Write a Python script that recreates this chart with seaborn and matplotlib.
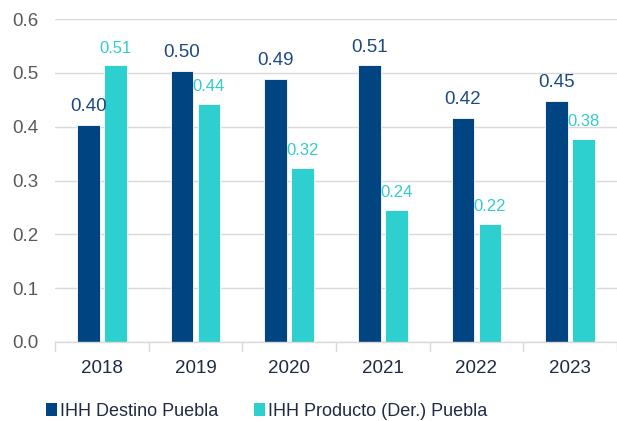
import matplotlib
matplotlib.use("Agg")
import matplotlib.pyplot as plt
import seaborn as sns
import pandas as pd
from matplotlib.patches import Patch

years = ["2018", "2019", "2020", "2021", "2022", "2023"]
destino = [0.403, 0.504, 0.489, 0.514, 0.416, 0.448]
producto = [0.514, 0.442, 0.324, 0.245, 0.219, 0.377]
series_names = ["IHH Destino Puebla", "IHH Producto (Der.) Puebla"]
yticks = [0.0, 0.1, 0.2, 0.3, 0.4, 0.5, 0.6]

c_dest = "#004581"
c_prod = "#2ECFCF"
c_dest_lbl = "#1B4A82"
c_prod_lbl = "#33CCCC"

sns.set_theme(style="white")
plt.rcParams["font.family"] = ["Liberation Sans", "DejaVu Sans"]

df = pd.DataFrame({
    "year": years * 2,
    "value": destino + producto,
    "serie": [series_names[0]] * len(years) + [series_names[1]] * len(years),
})

fig = plt.figure(figsize=(6.17, 4.21), dpi=100)
ax = fig.add_axes([55 / 617, 1 - 342 / 421, (617 - 55) / 617, (342 - 19) / 421])

sns.barplot(data=df, x="year", y="value", hue="serie", order=years,
            hue_order=series_names, palette=[c_dest, c_prod], saturation=1,
            width=0.576, gap=0.15, edgecolor="white", linewidth=0.6,
            legend=False, ax=ax)

ax.set_ylim(0, 0.6)
ax.set_xlim(-0.5, len(years) - 0.5)
ax.set_yticks(yticks)
ax.set_yticklabels([f"{v:.1f}" for v in yticks], color="#595959", fontsize=13.5)
ax.yaxis.grid(True, color="#D9D9D9", linewidth=1)
ax.set_axisbelow(True)
ax.tick_params(axis="y", length=0, pad=12)
ax.tick_params(axis="x", length=0, pad=13, labelsize=13.5, labelcolor="#1F2A44")
for s in ["top", "right", "left"]:
    ax.spines[s].set_visible(False)
ax.spines["bottom"].set_color("#D9D9D9")
ax.spines["bottom"].set_linewidth(1)
for b in range(len(years) + 1):
    ax.plot([b - 0.5, b - 0.5], [0, -0.016], color="#D9D9D9", lw=1,
            clip_on=False, transform=ax.transData)
ax.set_xlabel("")
ax.set_ylabel("")

ax.bar_label(ax.containers[0], labels=[f"{v:.2f}" for v in destino],
             padding=7, color=c_dest_lbl, fontsize=13.5)
ax.bar_label(ax.containers[1], labels=[f"{v:.2f}" for v in producto],
             padding=7, color=c_prod_lbl, fontsize=12)

handles = [Patch(facecolor=c_dest, edgecolor="none"),
           Patch(facecolor=c_prod, edgecolor="none")]
fig.legend(handles, series_names, loc="center left",
           bbox_to_anchor=(30 / 617, 1 - 411 / 421), ncol=2, frameon=False,
           fontsize=13, handlelength=0.6, handleheight=0.7, handletextpad=0.15,
           columnspacing=2.0, labelcolor="#1F2A44")

fig.savefig("out.png", dpi=100)
